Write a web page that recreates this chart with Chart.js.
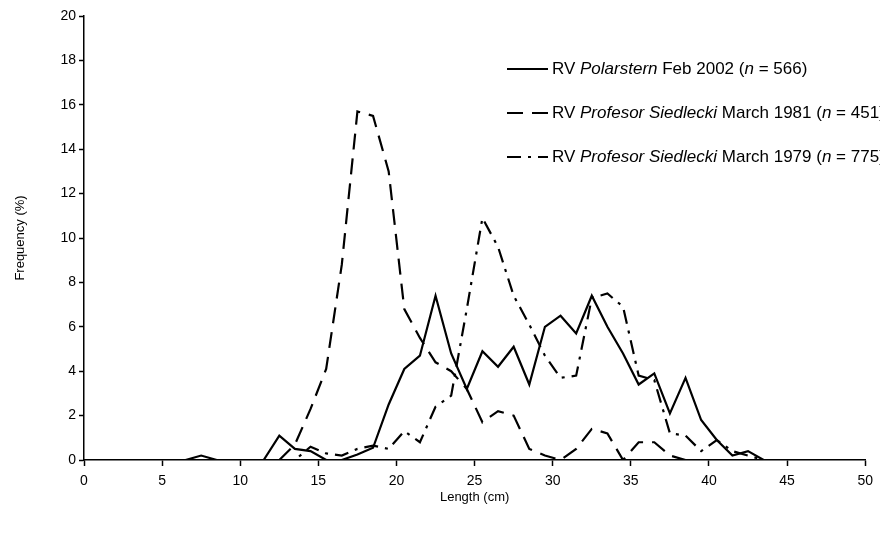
<!DOCTYPE html>
<html>
<head>
<meta charset="utf-8">
<title>Length frequency</title>
<script src="https://cdn.jsdelivr.net/npm/chart.js@4.4.1/dist/chart.umd.min.js"></script>
<style>
html,body{margin:0;padding:0;background:#fff;}
#wrap{width:880px;height:538px;}
</style>
</head>
<body>
<div id="wrap"><canvas id="chart" width="880" height="538"></canvas></div>
<script>
/* length classes (cm, class mid-points) */
const LENGTHS=[6.5,7.5,8.5,9.5,10.5,11.5,12.5,13.5,14.5,15.5,16.5,17.5,18.5,19.5,20.5,21.5,22.5,23.5,24.5,25.5,26.5,27.5,28.5,29.5,30.5,31.5,32.5,33.5,34.5,35.5,36.5,37.5,38.5,39.5,40.5,41.5,42.5,43.5];

/* frequency (%) per class */
const POLARSTERN_2002=[0,0.2,0,0,0,0,1.1,0.5,0.4,0,0,0.25,0.55,2.5,4.1,4.7,7.4,4.8,3.2,4.9,4.2,5.1,3.4,6.0,6.5,5.7,7.4,6.0,4.8,3.4,3.9,2.1,3.7,1.8,0.9,0.2,0.4,0];
const SIEDLECKI_1981=[null,null,null,null,null,null,0,0.7,2.3,4.1,8.8,15.7,15.5,13.0,6.8,5.5,4.4,4.0,3.2,1.7,2.2,2.0,0.5,0.2,0,0.5,1.4,1.2,0,0.8,0.8,0.2,0,null,null,null,null,null];
const SIEDLECKI_1979=[null,null,null,null,null,null,0,0,0.6,0.3,0.2,0.5,0.65,0.5,1.3,0.8,2.4,2.9,6.8,10.9,9.6,7.4,6.1,4.7,3.7,3.8,7.3,7.5,6.9,3.8,3.6,1.2,1.1,0.4,0.9,0.4,0.2,0];

/* legend text, [text, italic] */
const SERIES_LABELS=[
  [["RV ",false],["Polarstern",true],[" Feb 2002 (",false],["n",true],[" = 566)",false]],
  [["RV ",false],["Profesor Siedlecki",true],[" March 1981 (",false],["n",true],[" = 451)",false]],
  [["RV ",false],["Profesor Siedlecki",true],[" March 1979 (",false],["n",true],[" = 775)",false]]
];

const X_TITLE="Length (cm)";
const Y_TITLE="Frequency (%)";

const FONT="'Liberation Sans', Arial, sans-serif";

function points(values){
  return LENGTHS.map((x,i)=>({x:x,y:values[i]}));
}

/* legend drawn by hand so parts of each label can be italic */
const seriesLegend={
  id:"seriesLegend",
  afterDraw(chart){
    const ctx=chart.ctx;
    const x0=507, y0=69, step=44;
    ctx.save();
    chart.data.datasets.forEach((ds,i)=>{
      const y=y0+i*step;
      ctx.beginPath();
      ctx.setLineDash(ds.borderDash||[]);
      ctx.lineWidth=ds.borderWidth;
      ctx.strokeStyle=ds.borderColor;
      ctx.moveTo(x0,y);
      ctx.lineTo(x0+41,y);
      ctx.stroke();
      ctx.setLineDash([]);
      ctx.fillStyle="#000";
      ctx.textBaseline="middle";
      let x=x0+45;
      SERIES_LABELS[i].forEach(([txt,it])=>{
        ctx.font=(it?"italic ":"")+"17px "+FONT;
        ctx.fillText(txt,x,y);
        x+=ctx.measureText(txt).width;
      });
    });
    ctx.restore();
  }
};

const line=(data,dash)=>({
  data:points(data),
  borderColor:"#000",
  borderWidth:2.2,
  borderDash:dash,
  pointRadius:0,
  tension:0,
  spanGaps:false,
  fill:false
});

new Chart(document.getElementById("chart"),{
  type:"line",
  data:{
    datasets:[
      line(POLARSTERN_2002,[]),
      line(SIEDLECKI_1981,[16,9]),
      line(SIEDLECKI_1979,[14,7,3,7])
    ]
  },
  options:{
    responsive:false,
    animation:false,
    layout:{padding:{top:16,right:14.5,left:0,bottom:0}},
    plugins:{legend:{display:false},tooltip:{enabled:false}},
    scales:{
      x:{
        type:"linear",
        min:0,max:50,
        afterFit(s){ s.height=78; },
        ticks:{stepSize:5,color:"#000",font:{family:FONT,size:14},padding:7,maxRotation:0},
        grid:{drawOnChartArea:false,drawTicks:true,tickLength:6,tickColor:"#000",tickWidth:1.5},
        border:{color:"#000",width:1.5},
        title:{display:true,text:X_TITLE,color:"#000",font:{family:FONT,size:13},padding:{top:0,bottom:33}}
      },
      y:{
        min:0,max:20,
        afterFit(s){ s.width=84; },
        ticks:{stepSize:2,color:"#000",font:{family:FONT,size:14},padding:3},
        grid:{drawOnChartArea:false,drawTicks:true,tickLength:5,tickColor:"#000",tickWidth:1.5},
        border:{color:"#000",width:1.5},
        title:{display:true,text:Y_TITLE,color:"#000",font:{family:FONT,size:13},padding:{top:13,bottom:0}}
      }
    }
  },
  plugins:[seriesLegend]
});
</script>
</body>
</html>
